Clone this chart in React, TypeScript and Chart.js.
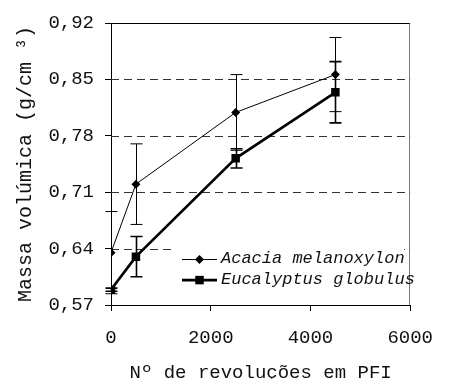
import React, { useEffect, useRef } from 'react';
import { Chart, registerables } from 'chart.js';

Chart.register(...registerables);

const revolutions = [0, 500, 2500, 4500];
const acaciaValues = [0.635, 0.72, 0.809, 0.856];
const acaciaErrors = [0.051, 0.05, 0.047, 0.046];
const eucalyptusValues = [0.589, 0.63, 0.752, 0.834];
const eucalyptusErrors = [0.002, 0.025, 0.012, 0.038];
const seriesLabels = ['Acacia melanoxylon', 'Eucalyptus globulus'];
const yTickValues = [0.57, 0.64, 0.71, 0.78, 0.85, 0.92];
const xTickValues = [0, 2000, 4000, 6000];
const xTitle = 'Nº de revoluções em PFI';
const yTitle = 'Massa volúmica (g/cm ³)';

const FONT = '"Liberation Mono", "Courier New", monospace';

const framePlugin = {
  id: 'frame',
  beforeDatasetsDraw(chart: any) {
    const { ctx, chartArea, scales } = chart;
    const y = scales.y;
    ctx.save();
    ctx.strokeStyle = '#333';
    ctx.lineWidth = 1;
    ctx.setLineDash([8, 5]);
    yTickValues.forEach((v) => {
      if (v === yTickValues[0] || v === yTickValues[yTickValues.length - 1]) return;
      const py = Math.round(y.getPixelForValue(v)) + 0.5;
      ctx.beginPath();
      ctx.moveTo(chartArea.left, py);
      ctx.lineTo(chartArea.right, py);
      ctx.stroke();
    });
    ctx.setLineDash([]);
    const top = Math.round(y.getPixelForValue(yTickValues[yTickValues.length - 1])) + 0.5;
    ctx.strokeStyle = '#000';
    ctx.beginPath();
    ctx.moveTo(chartArea.left, top);
    ctx.lineTo(chartArea.right, top);
    ctx.stroke();
    ctx.strokeStyle = '#777';
    const rx = Math.round(chartArea.right) - 0.5;
    ctx.beginPath();
    ctx.moveTo(rx, top);
    ctx.lineTo(rx, chartArea.bottom);
    ctx.stroke();
    ctx.restore();
  },
};

const errorBarPlugin = {
  id: 'errorBars',
  beforeDatasetsDraw(chart: any) {
    const { ctx, scales } = chart;
    const xs = scales.x;
    const ys = scales.y;
    ctx.save();
    chart.data.datasets.forEach((ds: any) => {
      ctx.strokeStyle = '#000';
      ctx.lineWidth = ds.errorWidth;
      ds.data.forEach((pt: any, i: number) => {
        const e = ds.errors[i];
        const px = Math.round(xs.getPixelForValue(pt.x)) + 0.5;
        const yt = ys.getPixelForValue(pt.y + e);
        const yb = ys.getPixelForValue(pt.y - e);
        ctx.beginPath();
        ctx.moveTo(px, yt);
        ctx.lineTo(px, yb);
        ctx.moveTo(px - 6, yt);
        ctx.lineTo(px + 6, yt);
        ctx.moveTo(px - 6, yb);
        ctx.lineTo(px + 6, yb);
        ctx.stroke();
      });
    });
    ctx.restore();
  },
};

const legendPlugin = {
  id: 'customLegend',
  afterDraw(chart: any) {
    const { ctx, chartArea } = chart;
    const left = chartArea.left + 65;
    const right = chartArea.right - 6;
    const top = chartArea.bottom - 63;
    const bottom = chartArea.bottom - 14;
    ctx.save();
    ctx.fillStyle = '#fff';
    ctx.fillRect(left, top, right - left, bottom - top);
    chart.data.datasets.forEach((ds: any, i: number) => {
      const ry = top + 17.5 + i * 20.6;
      const x0 = left + 6;
      const x1 = left + 41;
      const cx = (x0 + x1) / 2;
      ctx.strokeStyle = '#000';
      ctx.lineWidth = ds.borderWidth;
      ctx.beginPath();
      ctx.moveTo(x0, ry);
      ctx.lineTo(x1, ry);
      ctx.stroke();
      ctx.fillStyle = '#000';
      ctx.beginPath();
      const r = ds.pointRadius;
      if (ds.pointStyle === 'rectRot') {
        ctx.moveTo(cx, ry - r);
        ctx.lineTo(cx + r, ry);
        ctx.lineTo(cx, ry + r);
        ctx.lineTo(cx - r, ry);
        ctx.closePath();
      } else {
        const h = r * Math.SQRT1_2;
        ctx.rect(cx - h, ry - h, 2 * h, 2 * h);
      }
      ctx.fill();
      ctx.fillStyle = '#111';
      ctx.font = `italic 17px ${FONT}`;
      ctx.textBaseline = 'middle';
      ctx.textAlign = 'left';
      ctx.fillText(ds.label, x1 + 4, ry - 1);
    });
    ctx.restore();
  },
};

export default function App() {
  const canvasRef = useRef<HTMLCanvasElement | null>(null);

  useEffect(() => {
    const canvas = canvasRef.current;
    if (!canvas) return;
    const chart = new Chart(canvas, {
      type: 'line',
      data: {
        datasets: [
          {
            label: seriesLabels[0],
            data: revolutions.map((r, i) => ({ x: r, y: acaciaValues[i] })),
            errors: acaciaErrors,
            errorWidth: 1,
            borderColor: '#000',
            backgroundColor: '#000',
            borderWidth: 1,
            pointStyle: 'rectRot',
            pointRadius: 4.5,
            pointBorderWidth: 0,
            tension: 0,
          } as any,
          {
            label: seriesLabels[1],
            data: revolutions.map((r, i) => ({ x: r, y: eucalyptusValues[i] })),
            errors: eucalyptusErrors,
            errorWidth: 1.6,
            borderColor: '#000',
            backgroundColor: '#000',
            borderWidth: 2.6,
            pointStyle: 'rect',
            pointRadius: 6,
            pointBorderWidth: 0,
            tension: 0,
          } as any,
        ],
      },
      options: {
        responsive: false,
        animation: false,
        layout: { padding: { top: 23, right: 22, left: 0, bottom: 0 } },
        plugins: { legend: { display: false }, tooltip: { enabled: false } },
        scales: {
          x: {
            type: 'linear',
            min: xTickValues[0],
            max: xTickValues[xTickValues.length - 1],
            afterBuildTicks: (s: any) => {
              s.ticks = xTickValues.map((v) => ({ value: v }));
            },
            afterFit: (s: any) => {
              s.height = 74;
            },
            grid: { drawOnChartArea: false, drawTicks: true, tickLength: 6, tickColor: '#000', tickWidth: 1 },
            border: { color: '#000', width: 1 },
            ticks: {
              font: { family: FONT, size: 19 },
              color: '#111',
              padding: 16,
              maxRotation: 0,
              autoSkip: false,
              callback: (v: any) => String(v),
            },
            title: {
              display: true,
              text: xTitle,
              color: '#111',
              font: { family: FONT, size: 19, lineHeight: 0.8 },
              padding: { top: 0, bottom: -2 },
            },
          },
          y: {
            type: 'linear',
            min: yTickValues[0],
            max: yTickValues[yTickValues.length - 1],
            afterBuildTicks: (s: any) => {
              s.ticks = yTickValues.map((v) => ({ value: v }));
            },
            afterFit: (s: any) => {
              s.width = 111;
            },
            grid: { drawOnChartArea: false, drawTicks: true, tickLength: 6, tickColor: '#000', tickWidth: 1 },
            border: { color: '#000', width: 1 },
            ticks: {
              font: { family: FONT, size: 19 },
              color: '#111',
              padding: 11,
              autoSkip: false,
              callback: (v: any) => Number(v).toFixed(2).replace('.', ','),
            },
            title: {
              display: true,
              text: yTitle,
              color: '#111',
              font: { family: FONT, size: 20 },
              padding: { top: 14, bottom: 0 },
            },
          },
        },
      } as any,
      plugins: [framePlugin, errorBarPlugin, legendPlugin],
    });
    return () => chart.destroy();
  }, []);

  return (
    <div style={{ position: 'fixed', left: 0, top: 0, width: 449, height: 379, background: '#fff' }}>
      <canvas ref={canvasRef} width={449} height={379} style={{ display: 'block' }} />
    </div>
  );
}
